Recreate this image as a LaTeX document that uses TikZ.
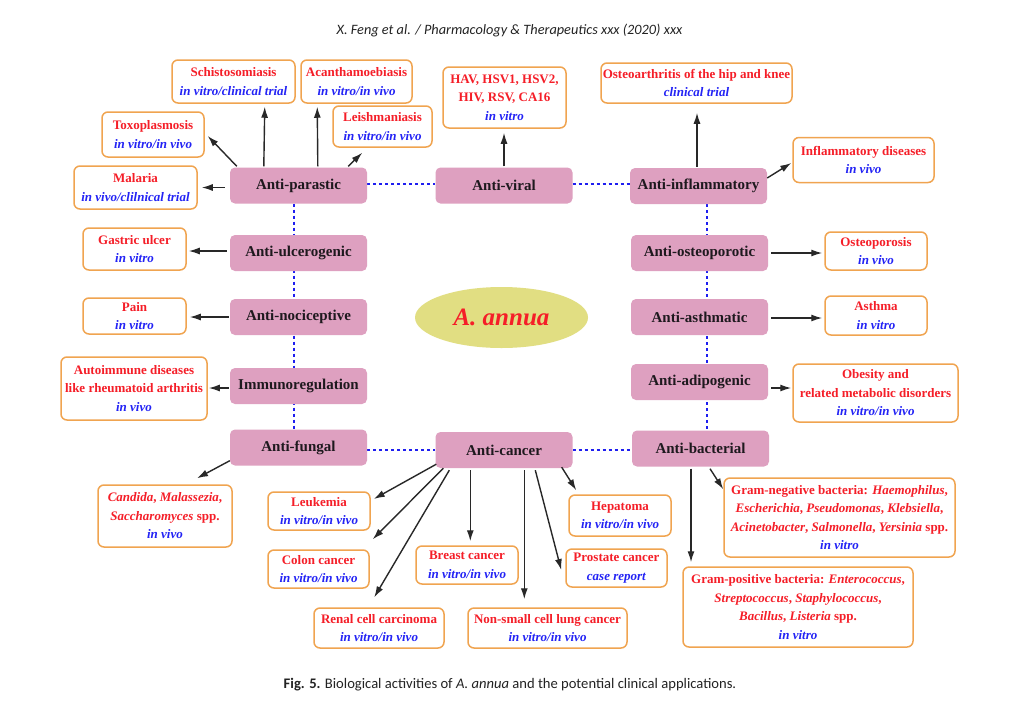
\documentclass[tikz,border=0pt]{standalone}
\usepackage{fontspec}
\usepackage{graphicx}
\setmainfont{Liberation Serif}
\newfontfamily\hdrfont{Carlito}
\usetikzlibrary{shapes.geometric,arrows.meta,calc,backgrounds}
\definecolor{pinkc}{RGB}{222,160,192}
\definecolor{orangec}{RGB}{240,164,80}
\definecolor{redc}{RGB}{245,30,40}
\definecolor{bluec}{RGB}{35,35,245}
\definecolor{dotc}{RGB}{30,30,240}
\definecolor{yelc}{RGB}{225,222,130}
\definecolor{actc}{RGB}{30,25,30}
\definecolor{arrc}{RGB}{40,40,40}
\definecolor{capc}{RGB}{35,35,35}
\tikzset{
  act/.style={fill=pinkc, rounded corners=5pt, minimum width=137pt, minimum height=36pt, inner sep=0pt, font=\fontsize{15}{18}\selectfont\bfseries, text=actc},
  outbox/.style={draw=orangec, line width=1.5pt, fill=white, rounded corners=6pt, inner sep=0pt, align=center, font=\fontsize{13}{18.5}\selectfont\bfseries, text=redc},
  arr/.style={draw=arrc, line width=1.4pt, -{Latex[length=11pt,width=7pt]}},
  dotln/.style={draw=dotc, line width=2.8pt, dash pattern=on 3pt off 3pt},
}
\newcommand{\ev}[1]{\textcolor{bluec}{\textit{#1}}}
\begin{document}
\begin{tikzpicture}[x=1pt,y=-1pt]
\useasboundingbox (0,0) rectangle (1024,707);
\begin{scope}[on background layer]
\fill[white] (0,0) rectangle (1024,707);
\end{scope}

% header and caption
\node[text=capc, inner sep=0pt, font=\hdrfont\fontsize{14.3}{17}\selectfont\itshape] (hdr) at (509.5,31) {X. Feng et al. / Pharmacology \& Therapeutics xxx (2020) xxx};
\node[text=capc, inner sep=0pt, font=\hdrfont\fontsize{14.6}{17}\selectfont] (cap) at (510,685) {\textbf{Fig. 5.} Biological activities of \textit{A. annua} and the potential clinical applications.};

% activity boxes
\node[act] (par) at (298.5,185.5) {Anti-parastic};
\node[act] (vir) at (504,185.5) {Anti-viral};
\node[act] (inf) at (698.5,186) {Anti-inflammatory};
\node[act] (ulc) at (298.5,253) {Anti-ulcerogenic};
\node[act] (ost) at (699.5,253) {Anti-osteoporotic};
\node[act] (noc) at (298.5,317) {Anti-nociceptive};
\node[act] (ast) at (699.5,317) {Anti-asthmatic};
\node[act] (imm) at (298.5,386) {Immunoregulation};
\node[act] (adi) at (699.5,382) {Anti-adipogenic};
\node[act] (fun) at (298.5,447.5) {Anti-fungal};
\node[act] (can) at (504,450) {Anti-cancer};
\node[act] (bac) at (700.5,448.5) {Anti-bacterial};

% centre
\node[ellipse, fill=yelc, minimum width=173pt, minimum height=61pt, inner sep=0pt, font=\fontsize{25}{30}\selectfont\bfseries\itshape, text=redc] (aa) at (501.5,317.5) {A. annua};

% outcome boxes
\node[outbox, minimum width=123pt, minimum height=43pt] (schisto) at (233.5,81.5) {Schistosomiasis\\\ev{in vitro/clinical trial}};
\node[outbox, minimum width=111pt, minimum height=43pt] (acanth) at (356.5,81.5) {Acanthamoebiasis\\\ev{in vitro/in vivo}};
\node[outbox, minimum width=102pt, minimum height=45pt] (toxo) at (153,134.5) {Toxoplasmosis\\\ev{in vitro/in vivo}};
\node[outbox, minimum width=99pt, minimum height=41pt] (leish) at (382.5,126.5) {Leishmaniasis\\\ev{in vitro/in vivo}};
\node[outbox, minimum width=123pt, minimum height=43pt] (malaria) at (135.5,187.5) {Malaria\\\ev{in vivo/clilnical trial}};
\node[outbox, minimum width=123pt, minimum height=61pt] (hav) at (504.5,97.5) {HAV, HSV1, HSV2,\\HIV, RSV, CA16\\\ev{in vitro}};
\node[outbox, minimum width=191pt, minimum height=40pt] (oa) at (696.5,83) {Osteoarthritis of the hip and knee\\\ev{clinical trial}};
\node[outbox, minimum width=141pt, minimum height=45pt] (infd) at (863.5,160) {Inflammatory diseases\\\ev{in vivo}};
\node[outbox, minimum width=103pt, minimum height=42pt] (gastric) at (134.5,249) {Gastric ulcer\\\ev{in vitro}};
\node[outbox, minimum width=103pt, minimum height=36pt] (pain) at (134.5,316) {Pain\\\ev{in vitro}};
\node[outbox, minimum width=146pt, minimum height=63pt] (autoimm) at (134,388.5) {Autoimmune diseases\\like rheumatoid arthritis\\\ev{in vivo}};
\node[outbox, minimum width=102pt, minimum height=38pt] (osteo) at (876,251) {Osteoporosis\\\ev{in vivo}};
\node[outbox, minimum width=102pt, minimum height=39pt] (asthma) at (876,315.5) {Asthma\\\ev{in vitro}};
\node[outbox, minimum width=165pt, minimum height=58pt] (obesity) at (875.5,393) {Obesity and\\related metabolic disorders\\\ev{in vitro/in vivo}};
\node[outbox, minimum width=134pt, minimum height=62pt] (candida) at (165,516) {\textit{Candida}, \textit{Malassezia},\\\textit{Saccharomyces} spp.\\\ev{in vivo}};
\node[outbox, minimum width=102pt, minimum height=38pt] (leuk) at (319,511) {Leukemia\\\ev{in vitro/in vivo}};
\node[outbox, minimum width=101pt, minimum height=38pt] (colon) at (318.5,569) {Colon cancer\\\ev{in vitro/in vivo}};
\node[outbox, minimum width=102pt, minimum height=38pt] (breast) at (467,565) {Breast cancer\\\ev{in vitro/in vivo}};
\node[outbox, minimum width=102pt, minimum height=41pt] (hepat) at (620,515.5) {Hepatoma\\\ev{in vitro/in vivo}};
\node[outbox, minimum width=101pt, minimum height=38pt] (prost) at (616.5,568) {Prostate cancer\\\ev{case report}};
\node[outbox, minimum width=130pt, minimum height=40pt] (renal) at (379,628) {Renal cell carcinoma\\\ev{in vitro/in vivo}};
\node[outbox, minimum width=159pt, minimum height=40pt] (nsclc) at (547.5,628) {Non-small cell lung cancer\\\ev{in vitro/in vivo}};
\node[outbox, minimum width=231pt, minimum height=79pt] (gneg) at (839.5,517.5) {Gram-negative bacteria: \textit{Haemophilus},\\\textit{Escherichia}, \textit{Pseudomonas}, \textit{Klebsiella},\\\textit{Acinetobacter}, \textit{Salmonella}, \textit{Yersinia} spp.\\\ev{in vitro}};
\node[outbox, minimum width=230pt, minimum height=80pt] (gpos) at (798,607) {Gram-positive bacteria: \textit{Enterococcus},\\\textit{Streptococcus}, \textit{Staphylococcus},\\\textit{Bacillus}, \textit{Listeria} spp.\\\ev{in vitro}};

% dotted links
\begin{scope}[on background layer]
\draw[dotln] ($(par.south)+(-4.5,0)$) -- ($(fun.north)+(-4.5,0)$);
\draw[dotln] ($(inf.south)+(8.5,0)$) -- ($(bac.north)+(6.5,0)$);
\draw[dotln] ($(par.east)+(0,-1.5)$) -- ($(par.east -| vir.west)+(0,-1.5)$);
\draw[dotln] ($(vir.east)+(0,-1.5)$) -- ($(vir.east -| inf.west)+(0,-1.5)$);
\draw[dotln] ($(fun.east)+(0,2.5)$) -- ($(fun.east -| can.west)+(0,2.5)$);
\draw[dotln] ($(can.east)+(0,0)$) -- ($(can.east -| bac.west)+(0,0)$);
\end{scope}

% arrows
\draw[arr] ($(par.north west)+(7,-1)$) -- ($(toxo.east)+(3,1.5)$);
\draw[arr] ($(par.north west)+(34,-1)$) -- ($(schisto.south east)+(-31,3)$);
\draw[arr] ($(par.north west)+(88,-1)$) -- ($(acanth.south west)+(17,3)$);
\draw[arr] ($(par.north east)+(-19,-1)$) -- ($(leish.south west)+(30,5)$);
\draw[arr] ($(par.west)+(-5,2)$) -- ($(malaria.east)+(4,0)$);
\draw[arr] ($(vir.north)+(0,-1)$) -- ($(vir.north |- hav.south)+(0,4)$);
\draw[arr] ($(inf.north)+(-1.5,-1)$) -- ($(inf.north |- oa.south)+(-1.5,9)$);
\draw[arr] ($(inf.east)+(0,-8)$) -- ($(infd.west)+(-1,3)$);
\draw[arr] ($(ulc.west)+(-3,-2)$) -- ($(ulc.west -| gastric.east)+(2,-2)$);
\draw[arr] ($(noc.west)+(-1,0)$) -- ($(noc.west -| pain.east)+(3,0)$);
\draw[arr] ($(imm.west)+(-1,2)$) -- ($(imm.west -| autoimm.east)+(1,2)$);
\draw[arr] ($(fun.south west)+(0,-5)$) -- ($(candida.north)+(32,-6)$);
\draw[arr] ($(ost.east)+(3,0)$) -- ($(ost.east -| osteo.west)+(-2,0)$);
\draw[arr] ($(ast.east)+(3,1)$) -- ($(ast.east -| asthma.west)+(-2,1)$);
\draw[arr] ($(adi.east)+(3,6)$) -- ($(adi.east -| obesity.west)+(-1,6)$);
\draw[arr] ($(bac.south)+(9.5,2)$) -- ($(gneg.north west)+(0,12)$);
\draw[arr] ($(bac.south)+(-9.5,2)$) -- ($(bac.south |- gpos.north)+(-9.5,-4)$);
\draw[arr] ($(can.south west)+(1,-4)$) -- ($(leuk.east)+(3,-12)$);
\draw[arr] ($(can.south west)+(8,0)$) -- ($(colon.north east)+(3,-10)$);
\draw[arr] ($(can.south west)+(14,2)$) -- ($(renal.north west)+(61,-10)$);
\draw[arr] ($(can.south west)+(35,2)$) -- ($(can.south west |- breast.north)+(35,-4)$);
\draw[arr] ($(can.south west)+(89,2)$) -- ($(can.south west |- nsclc.north)+(89,-8)$);
\draw[arr] ($(can.south west)+(100,2)$) -- ($(prost.west)+(-4,2)$);
\draw[arr] ($(can.south east)+(-11,-1)$) -- ($(hepat.north west)+(8,-4)$);
\end{tikzpicture}
\end{document}
